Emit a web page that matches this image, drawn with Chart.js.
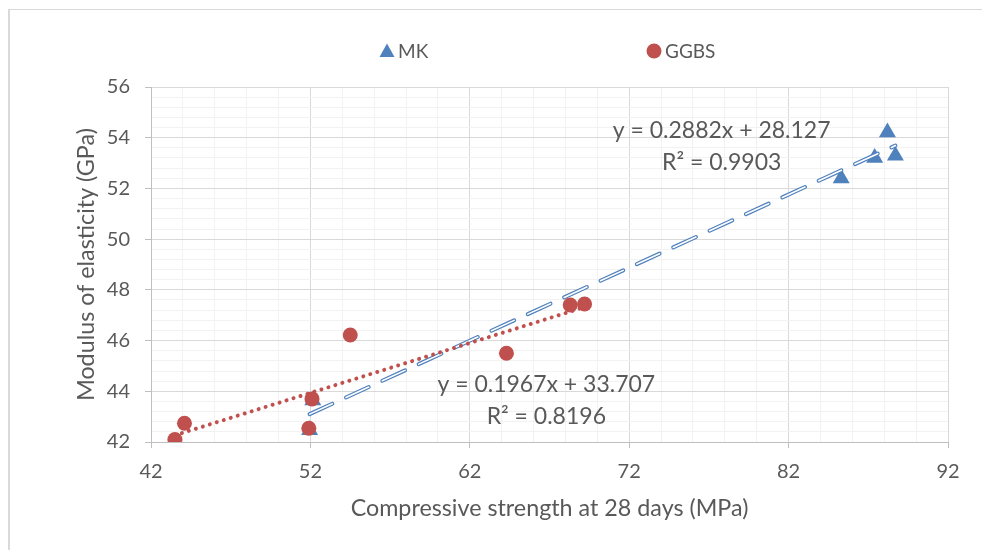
<!DOCTYPE html>
<html>
<head>
<meta charset="utf-8">
<script src="https://cdn.jsdelivr.net/npm/chart.js@4.4.0/dist/chart.umd.min.js"></script>
<style>
  html, body { margin: 0; padding: 0; background: #fff; }
  #wrap { position: relative; width: 982px; height: 550px; overflow: hidden; }
  #frame { position: absolute; left: 8px; top: 9px; width: 1000px; height: 600px;
           border-left: 2px solid #d9d9d9; border-top: 1px solid #d9d9d9; }
  #chart { position: absolute; left: 0; top: 0; }
</style>
</head>
<body>
<div id="wrap">
  <div id="frame"></div>
  <canvas id="chart" width="982" height="550"></canvas>
</div>
<script>
// data
const mkStrength = [51.95, 52.15, 85.3, 87.4, 88.2, 88.7];
const mkModulus = [42.47, 43.64, 52.40, 53.21, 54.21, 53.29];
const ggbsStrength = [43.5, 44.1, 51.9, 52.1, 54.5, 64.3, 68.3, 69.2];
const ggbsModulus = [42.10, 42.74, 42.54, 43.70, 46.22, 45.50, 47.40, 47.44];

// linear trendlines as printed on the chart
const mkTrend = [0.2882, 28.127];
const ggbsTrend = [0.1967, 33.707];
const mkEquation = ['y = 0.2882x + 28.127', 'R² = 0.9903'];
const ggbsEquation = ['y = 0.1967x + 33.707', 'R² = 0.8196'];

const xRange = [42, 92];
const yRange = [42, 56];

const FONT = 'Lato, "Open Sans", sans-serif';
const TEXT = '#595959';
const BLUE = '#4f81bd';
const RED = '#c0504d';

function toPoints(xs, ys) {
    return xs.map((v, i) => ({ x: v, y: ys[i] }));
}

function trendPoints(xs, coef) {
    const lo = Math.min(...xs), hi = Math.max(...xs);
    return [lo, hi].map(v => ({ x: v, y: coef[0] * v + coef[1] }));
}

const isMultiple = (v, step) => Math.abs(v / step - Math.round(v / step)) < 1e-6;

// legend drawn along the top, items spread out like the original
const topLegend = {
    id: 'topLegend',
    afterDraw(chart, args, opts) {
        const ctx = chart.ctx;
        ctx.save();
        ctx.font = opts.size + 'px ' + FONT;
        ctx.textBaseline = 'middle';
        ctx.textAlign = 'left';
        opts.items.forEach(item => {
            const ds = chart.data.datasets[item.dataset];
            ctx.fillStyle = ds.backgroundColor;
            ctx.beginPath();
            if (ds.pointStyle === 'triangle') {
                ctx.moveTo(item.x, opts.y - 7.5);
                ctx.lineTo(item.x + 7.5, opts.y + 6);
                ctx.lineTo(item.x - 7.5, opts.y + 6);
                ctx.closePath();
            } else {
                ctx.arc(item.x, opts.y, 7.5, 0, Math.PI * 2);
            }
            ctx.fill();
            ctx.fillStyle = TEXT;
            ctx.fillText(ds.label, item.x + 11, opts.y + 1);
        });
        ctx.restore();
    }
};

// trendline equations, anchored in data coordinates
const equationLabels = {
    id: 'equationLabels',
    afterDatasetsDraw(chart, args, opts) {
        const { ctx, scales: { x, y } } = chart;
        ctx.save();
        ctx.font = opts.size + 'px ' + FONT;
        ctx.fillStyle = TEXT;
        ctx.textAlign = 'center';
        ctx.textBaseline = 'middle';
        opts.items.forEach(item => {
            const px = x.getPixelForValue(item.x);
            const py = y.getPixelForValue(item.y);
            item.lines.forEach((t, i) => ctx.fillText(t, px, py + i * opts.lineGap));
        });
        ctx.restore();
    }
};

const ctx = document.getElementById('chart').getContext('2d');

new Chart(ctx, {
    type: 'scatter',
    data: {
        datasets: [
            {
                label: 'MK',
                data: toPoints(mkStrength, mkModulus),
                pointStyle: 'triangle',
                pointRadius: 9.8,
                backgroundColor: BLUE,
                borderColor: BLUE,
                pointBorderWidth: 0,
                order: 5
            },
            {
                label: 'GGBS',
                data: toPoints(ggbsStrength, ggbsModulus),
                pointStyle: 'circle',
                pointRadius: 7.5,
                backgroundColor: RED,
                borderColor: RED,
                pointBorderWidth: 0,
                order: 1
            },
            {
                label: 'MK trend',
                data: trendPoints(mkStrength, mkTrend),
                showLine: true,
                pointRadius: 0,
                borderColor: BLUE,
                borderWidth: 4,
                borderDash: [25, 15],
                borderCapStyle: 'round',
                order: 4
            },
            {
                label: 'MK trend inner',
                data: trendPoints(mkStrength, mkTrend),
                showLine: true,
                pointRadius: 0,
                borderColor: '#ffffff',
                borderWidth: 1.6,
                borderDash: [25, 15],
                borderCapStyle: 'round',
                order: 3
            },
            {
                label: 'GGBS trend',
                data: trendPoints(ggbsStrength, ggbsTrend),
                showLine: true,
                pointRadius: 0,
                borderColor: RED,
                borderWidth: 4,
                borderDash: [0.01, 7.3],
                borderCapStyle: 'round',
                order: 2
            }
        ]
    },
    options: {
        responsive: false,
        animation: false,
        events: [],
        layout: { padding: { top: 87, right: 34, left: 0, bottom: 0 } },
        plugins: {
            legend: { display: false },
            tooltip: { enabled: false },
            topLegend: {
                y: 51,
                size: 19,
                items: [{ dataset: 0, x: 387 }, { dataset: 1, x: 654 }]
            },
            equationLabels: {
                size: 23,
                lineGap: 32,
                items: [
                    { x: 77.8, y: 54.3, lines: mkEquation },
                    { x: 66.8, y: 44.25, lines: ggbsEquation }
                ]
            }
        },
        scales: {
            x: {
                type: 'linear',
                min: xRange[0],
                max: xRange[1],
                ticks: {
                    stepSize: 2,
                    autoSkip: false,
                    maxRotation: 0,
                    padding: 12,
                    color: TEXT,
                    font: { family: FONT, size: 20 },
                    callback: v => isMultiple(v - xRange[0], 10) ? v : ''
                },
                grid: {
                    color: c => isMultiple(c.tick.value - xRange[0], 10) ? '#d9d9d9' : '#f2f2f2',
                    tickColor: c => isMultiple(c.tick.value - xRange[0], 10) ? '#bfbfbf' : 'rgba(0,0,0,0)',
                    tickLength: 6
                },
                border: { color: '#bfbfbf' },
                title: {
                    display: true,
                    text: 'Compressive strength at 28 days (MPa)',
                    color: TEXT,
                    font: { family: FONT, size: 23.3 },
                    padding: { top: 0, bottom: 28 }
                },
                afterFit: s => { s.height = 108; }
            },
            y: {
                type: 'linear',
                min: yRange[0],
                max: yRange[1],
                ticks: {
                    stepSize: 0.4,
                    autoSkip: false,
                    padding: 15,
                    color: TEXT,
                    font: { family: FONT, size: 20 },
                    callback: v => isMultiple(v, 2) ? v : ''
                },
                grid: {
                    color: c => isMultiple(c.tick.value, 2) ? '#d9d9d9' : '#f2f2f2',
                    tickColor: c => isMultiple(c.tick.value, 2) ? '#bfbfbf' : 'rgba(0,0,0,0)',
                    tickLength: 6
                },
                border: { color: '#bfbfbf' },
                title: {
                    display: true,
                    text: 'Modulus of elasticity (GPa)',
                    color: TEXT,
                    font: { family: FONT, size: 23.3 },
                    padding: { top: 72, bottom: 0 }
                },
                afterFit: s => { s.width = 151; }
            }
        }
    },
    plugins: [topLegend, equationLabels]
});
</script>
</body>
</html>
